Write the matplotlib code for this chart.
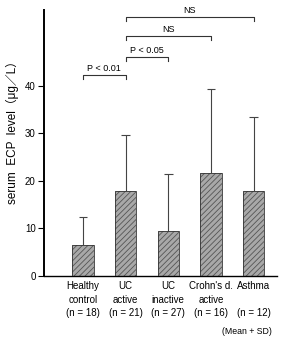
import numpy as np
import matplotlib
matplotlib.use("Agg")
import matplotlib.pyplot as plt

plt.rcParams['font.family'] = ['Liberation Sans', 'DejaVu Sans', 'Noto Sans CJK JP']
plt.rcParams['hatch.linewidth'] = 0.6

# データ (平均 + SD)
groups = ['Healthy\ncontrol\n(n = 18)', 'UC\nactive\n(n = 21)', 'UC\ninactive\n(n = 27)',
          "Crohn's d.\nactive\n(n = 16)", 'Asthma\n\n(n = 12)']
means = [6.5, 17.8, 9.5, 21.7, 17.9]
sds = [5.9, 11.8, 12.0, 17.6, 15.6]

# 有意差の表示 (i, j, 高さ, ラベル)
brackets = [(0, 1, 42.4, 'P < 0.01'),
            (1, 2, 46.2, 'P < 0.05'),
            (1, 3, 50.6, 'NS'),
            (1, 4, 54.6, 'NS')]

fig = plt.figure(figsize=(2.92, 3.37), dpi=100)
ax = fig.add_axes([0.151, 0.182, 0.798, 0.788])

x = np.arange(len(groups))
ax.bar(x, means, width=0.5, color='#a8a8a8', hatch='//////', edgecolor='#555555', linewidth=0, zorder=2)
ax.bar(x, means, width=0.5, fill=False, edgecolor='#333333', linewidth=0.6, zorder=3)

# SD (上側のみ)
tops = np.array(means) + np.array(sds)
ax.vlines(x, means, tops, color='#444444', lw=0.8, zorder=1)
ax.hlines(tops, x - 0.1, x + 0.1, color='#444444', lw=0.8)

for i, j, h, lab in brackets:
    ax.plot([x[i], x[i], x[j], x[j]], [h - 0.9, h, h, h - 0.9], color='#333333', lw=0.8, clip_on=False)
    ax.text((x[i] + x[j]) / 2, h + 0.3, lab, ha='center', va='bottom', fontsize=6.5)

ax.set_xlim(-0.91, 4.55)
ax.set_ylim(0, 56)
ax.set_yticks([0, 10, 20, 30, 40])
ax.tick_params(axis='y', direction='out', length=4, width=0.8, labelsize=7, pad=2)
ax.set_xticks(x)
ax.set_xticklabels(groups, fontsize=7, linespacing=1.45)
ax.tick_params(axis='x', length=0, pad=4)
for s in ['top', 'right']:
    ax.spines[s].set_visible(False)
ax.spines['left'].set_linewidth(1.4)
ax.spines['bottom'].set_linewidth(1.0)

fig.text(12 / 292, 1 - 130 / 337, 'serum  ECP  level（μg／L）', rotation=90,
         ha='center', va='center', fontsize=8.5,
         family=['Liberation Sans', 'Noto Sans CJK JP'])
fig.text(247 / 292, 1 - 331 / 337, '(Mean + SD)', ha='center', va='center', fontsize=6.3)

fig.savefig('out.png', dpi=100)
